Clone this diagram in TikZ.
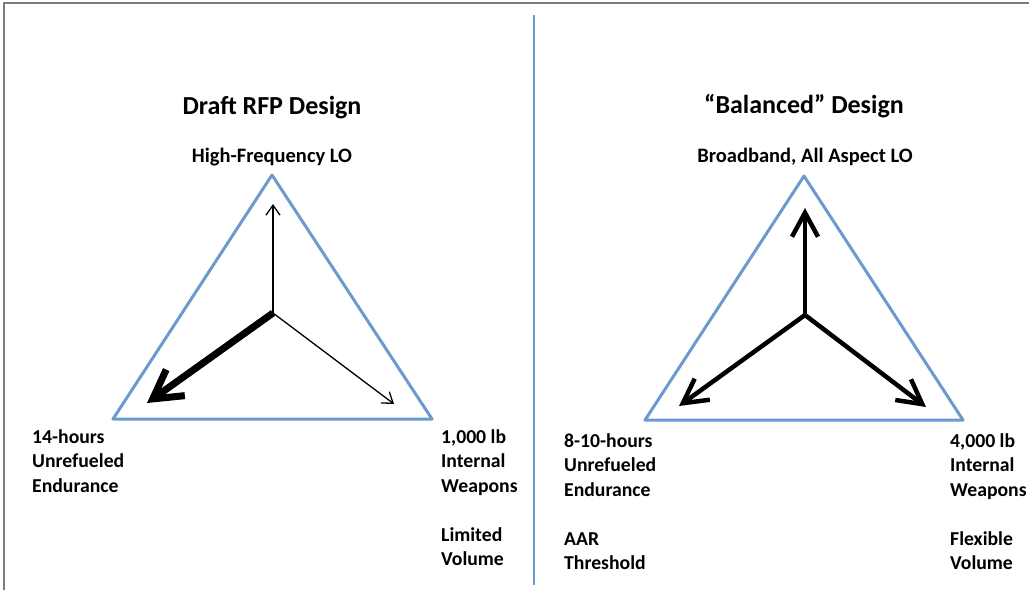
\documentclass[tikz,border=0pt]{standalone}
\usepackage{fontspec}
\setmainfont{Carlito}
\usetikzlibrary{arrows.meta}
\definecolor{LOblue}{RGB}{108,153,206}
\definecolor{framegray}{RGB}{125,125,125}
\tikzset{side/.style={draw=LOblue, line width=3pt, line join=round}}
\tikzset{weak/.style={-{Straight Barb[length=10pt,width=14pt]}, line width=1.3pt}}
\tikzset{strong/.style={-{Straight Barb[length=28pt,width=32pt]}, line width=7pt}}
\tikzset{even/.style={-{Straight Barb[length=24pt,width=26pt]}, line width=4.5pt}}
\tikzset{title/.style={font=\bfseries\fontsize{26}{30}\selectfont, inner sep=0pt}}
\tikzset{vertex/.style={font=\bfseries\fontsize{20.5}{24.5}\selectfont, inner sep=0pt}}
\tikzset{corner/.style={font=\bfseries\fontsize{19.7}{24.5}\selectfont, align=left, anchor=north west, inner sep=0pt}}

\begin{document}
\begin{tikzpicture}[x=1pt, y=-1pt]
  \useasboundingbox (0,0) rectangle (1029,590);

  % --- frame and divider ---
  \coordinate (fbot) at (4,590);
  \coordinate (fcorner) at (4,3);
  \coordinate (fright) at (1029,3);
  \draw[framegray, line width=2pt] (fbot) -- (fcorner) -- (fright);
  \coordinate (divtop) at (534,15);
  \coordinate (divbot) at (534,585);
  \draw[LOblue, line width=2.5pt] (divtop) -- (divbot);

  % --- draft RFP design ---
  \begin{scope}
    \node[title] (ltitle) at (272,108) {Draft RFP Design};
    \node[vertex] (lLO) at (272,157) {High-Frequency LO};

    \coordinate (lA) at (272,175);
    \coordinate (lB) at (113,419);
    \coordinate (lC) at (432,419);
    \draw[side] (lA) -- (lB) -- (lC) -- cycle;

    \coordinate (lmid) at (273,313);
    \coordinate (lup) at (273,204);
    \coordinate (lleft) at (147,403);
    \coordinate (lright) at (394,404);
    \draw[weak] (lmid) -- (lup);
    \draw[weak] (lmid) -- (lright);
    \draw[strong] (lmid) -- (lleft);

    \node[corner] (lend) at (32,429) {14-hours\\Unrefueled\\Endurance};
    \node[corner] (lwpn) at (441,429) {1,000 lb\\Internal\\Weapons\\[24.5pt]Limited\\Volume};
  \end{scope}

  % --- balanced design ---
  \begin{scope}
    \node[title] (rtitle) at (804,106) {“Balanced” Design};
    \node[vertex] (rLO) at (805,157) {Broadband, All Aspect LO};

    \coordinate (rA) at (804,176);
    \coordinate (rB) at (645,420);
    \coordinate (rC) at (963,420);
    \draw[side] (rA) -- (rB) -- (rC) -- cycle;

    \coordinate (rmid) at (805,315);
    \coordinate (rup) at (805,208);
    \coordinate (rleft) at (679,406);
    \coordinate (rright) at (926,407);
    \draw[even] (rmid) -- (rup);
    \draw[even] (rmid) -- (rleft);
    \draw[even] (rmid) -- (rright);

    \node[corner] (rend) at (564,433) {8-10-hours\\Unrefueled\\Endurance\\[24.5pt]AAR\\Threshold};
    \node[corner] (rwpn) at (950,433) {4,000 lb\\Internal\\Weapons\\[24.5pt]Flexible\\Volume};
  \end{scope}
\end{tikzpicture}
\end{document}
